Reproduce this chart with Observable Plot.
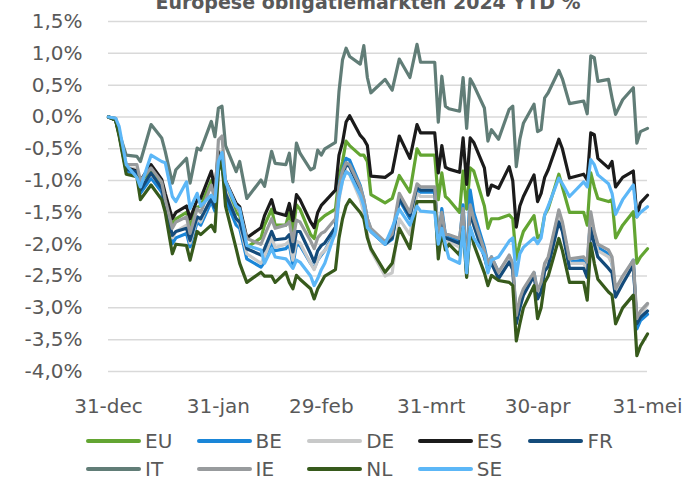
<!DOCTYPE html>
<html>
<head>
<meta charset="utf-8">
<script src="https://cdn.jsdelivr.net/npm/d3@7"></script>
<script src="https://cdn.jsdelivr.net/npm/@observablehq/plot@0.6"></script>
<style>
  html, body { margin: 0; padding: 0; background: #ffffff; }
  #wrap { position: relative; width: 700px; height: 484px; overflow: hidden; background: #fff; }
  #title { position: absolute; left: 18px; width: 700px; top: -9px; text-align: center;
           font: bold 19px "DejaVu Sans"; line-height: 22px; color: #595959; white-space: nowrap; }
  #chart { position: absolute; left: 0; top: 0; }
  .lg-sw { position: absolute; width: 55px; height: 4px; border-radius: 2px; }
  .lg-tx { position: absolute; font: 20px "DejaVu Sans"; line-height: 24px; color: #595959; white-space: nowrap; }
</style>
</head>
<body>
<div id="wrap">
  <div id="chart"></div>
  <div id="title">Europese obligatiemarkten 2024 YTD %</div>
  <div id="legend"></div>
</div>
<script>
const dates = [
"2023-12-31","2024-01-02","2024-01-03","2024-01-05","2024-01-08","2024-01-09","2024-01-12","2024-01-15","2024-01-16","2024-01-18",
"2024-01-19","2024-01-22","2024-01-23","2024-01-25","2024-01-26","2024-01-29","2024-01-30","2024-01-31","2024-02-01","2024-02-02",
"2024-02-05","2024-02-06","2024-02-08","2024-02-12","2024-02-13","2024-02-15","2024-02-16","2024-02-19","2024-02-20","2024-02-21",
"2024-02-22","2024-02-23","2024-02-26","2024-02-27","2024-02-28","2024-02-29","2024-03-01","2024-03-04","2024-03-05","2024-03-06",
"2024-03-07","2024-03-08","2024-03-11","2024-03-12","2024-03-13","2024-03-14","2024-03-18","2024-03-20","2024-03-22","2024-03-25",
"2024-03-27","2024-03-28","2024-04-01","2024-04-02","2024-04-03","2024-04-04","2024-04-05","2024-04-08","2024-04-09","2024-04-10",
"2024-04-11","2024-04-12","2024-04-15","2024-04-16","2024-04-17","2024-04-19","2024-04-22","2024-04-23","2024-04-24","2024-04-25",
"2024-04-26","2024-04-29","2024-04-30","2024-05-01","2024-05-02","2024-05-03","2024-05-06","2024-05-07","2024-05-09","2024-05-13",
"2024-05-14","2024-05-15","2024-05-16","2024-05-17","2024-05-20","2024-05-21","2024-05-22","2024-05-24","2024-05-27","2024-05-28",
"2024-05-29","2024-05-31"];

const EU = [
0,-0.05,-0.28,-0.85,-0.9,-1.05,-0.85,-1.05,-1.3,-1.7,
-1.6,-1.5,-1.72,-1.42,-1.4,-1.0,-1.3,-0.7,-0.8,-1.1,
-1.5,-1.55,-2.05,-1.9,-1.7,-1.45,-1.7,-1.7,-1.5,-1.8,
-1.38,-1.45,-1.85,-1.91,-1.65,-1.6,-1.55,-1.45,-0.95,-0.7,
-0.38,-0.45,-0.6,-0.6,-0.7,-1.22,-1.35,-1.28,-0.92,-1.18,
-0.5,-0.6,-0.6,-1.3,-0.88,-1.25,-1.3,-1.5,-0.85,-1.45,
-0.8,-0.85,-1.4,-1.75,-1.6,-1.6,-1.54,-1.6,-2.24,-1.98,
-1.8,-1.55,-1.9,-1.85,-1.54,-1.44,-0.9,-1.1,-1.5,-1.5,
-1.7,-0.88,-1.1,-1.28,-1.33,-1.3,-1.9,-1.7,-1.49,-2.3,
-2.2,-2.07];

const BE = [
0,-0.04,-0.27,-0.85,-0.9,-1.2,-0.96,-1.18,-1.45,-1.99,
-1.9,-1.83,-2.04,-1.65,-1.7,-1.33,-1.48,-0.7,-0.7,-1.3,
-1.7,-1.75,-2.23,-2.36,-2.28,-1.96,-2.1,-2.07,-2.0,-2.33,
-2.0,-2.02,-2.3,-2.38,-2.25,-2.17,-2.1,-1.8,-1.05,-0.85,
-0.65,-0.68,-1.08,-1.3,-1.6,-1.78,-2.0,-1.92,-1.3,-1.6,
-1.15,-1.18,-1.18,-1.98,-1.44,-1.86,-1.9,-1.95,-1.38,-2.4,
-1.15,-1.5,-2.05,-2.3,-2.2,-2.44,-2.2,-2.32,-3.18,-2.9,
-2.75,-2.45,-2.78,-2.65,-2.35,-2.25,-1.5,-1.7,-2.28,-2.25,
-2.35,-1.55,-1.85,-2.05,-2.15,-2.3,-2.75,-2.55,-2.25,-3.33,
-3.2,-3.1];

const DE = [
0,-0.03,-0.24,-0.8,-0.82,-1.1,-0.9,-1.1,-1.38,-1.9,
-1.8,-1.7,-1.98,-1.6,-1.65,-1.25,-1.4,-0.55,-0.55,-1.15,
-1.6,-1.68,-2.15,-2.3,-2.2,-1.9,-2.05,-2.0,-1.95,-2.25,
-1.95,-1.98,-2.3,-2.4,-2.25,-2.15,-2.1,-1.85,-1.3,-1.0,
-0.85,-0.9,-1.3,-1.5,-1.85,-2.1,-2.5,-2.45,-1.6,-1.85,
-1.2,-1.25,-1.25,-2.05,-1.6,-1.95,-1.95,-2.05,-1.55,-2.5,
-1.45,-1.7,-2.2,-2.4,-2.3,-2.5,-2.25,-2.4,-3.2,-2.95,
-2.8,-2.5,-2.8,-2.7,-2.4,-2.3,-1.55,-1.75,-2.3,-2.3,
-2.4,-1.6,-1.9,-2.1,-2.2,-2.3,-2.78,-2.55,-2.3,-3.2,
-3.1,-2.95];

const ES = [
0,-0.05,-0.25,-0.8,-0.85,-1.0,-0.75,-0.98,-1.2,-1.6,
-1.5,-1.4,-1.6,-1.3,-1.28,-0.85,-1.15,-0.55,-0.7,-1.0,
-1.36,-1.41,-1.9,-1.74,-1.55,-1.3,-1.5,-1.55,-1.36,-1.63,
-1.22,-1.3,-1.65,-1.74,-1.5,-1.39,-1.33,-1.15,-0.6,-0.4,
-0.08,0.02,-0.29,-0.35,-0.45,-0.93,-0.95,-0.87,-0.3,-0.65,
-0.12,-0.25,-0.25,-0.88,-0.45,-0.79,-0.82,-0.87,-0.33,-1.06,
-0.33,-0.4,-0.8,-1.23,-1.07,-1.12,-0.78,-1.0,-1.73,-1.4,
-1.25,-0.91,-1.33,-1.2,-0.95,-0.83,-0.35,-0.5,-0.96,-0.9,
-0.99,-0.25,-0.28,-0.65,-0.8,-0.7,-1.1,-0.95,-0.85,-1.57,
-1.35,-1.23];

const FR = [
0,-0.04,-0.25,-0.82,-0.86,-1.15,-0.88,-1.12,-1.4,-1.86,
-1.8,-1.75,-1.94,-1.57,-1.6,-1.28,-1.42,-0.65,-0.65,-1.2,
-1.6,-1.65,-2.07,-2.17,-2.07,-1.8,-1.93,-1.91,-1.85,-2.12,
-1.8,-1.8,-2.15,-2.28,-2.1,-2.02,-1.98,-1.73,-1.2,-0.92,
-0.75,-0.78,-1.15,-1.35,-1.65,-1.8,-2.0,-1.9,-1.28,-1.55,
-1.1,-1.15,-1.15,-1.95,-1.55,-1.9,-1.92,-1.99,-1.54,-2.45,
-1.49,-1.7,-2.2,-2.4,-2.3,-2.54,-2.28,-2.4,-3.25,-3.0,
-2.8,-2.49,-2.86,-2.75,-2.42,-2.35,-1.65,-1.8,-2.38,-2.38,
-2.52,-1.75,-2.0,-2.2,-2.38,-2.45,-2.83,-2.62,-2.33,-3.25,
-3.15,-3.05];

const IT = [
0,-0.02,-0.25,-0.6,-0.62,-0.7,-0.12,-0.33,-0.54,-1.04,
-0.83,-0.65,-1.04,-0.49,-0.52,-0.07,-0.31,0.14,0.17,-0.45,
-0.86,-0.7,-1.28,-0.99,-1.09,-0.54,-0.73,-0.75,-0.57,-1.02,
-0.41,-0.57,-0.83,-0.8,-0.52,-0.6,-0.5,-0.4,0.4,0.9,
1.08,0.95,0.83,1.12,0.62,0.38,0.59,0.42,0.91,0.62,
1.14,0.86,0.86,-0.08,0.64,0.17,0.13,0.09,0.62,-0.18,
0.6,0.5,0.14,-0.38,-0.2,-0.35,0.12,0.17,-0.78,-0.35,
-0.1,0.2,-0.23,-0.2,0.3,0.38,0.73,0.6,0.21,0.25,
0.05,0.96,0.93,0.56,0.59,0.3,0.04,0.27,0.46,-0.41,
-0.23,-0.18];

const IE = [
0,-0.03,-0.22,-0.75,-0.75,-1.0,-0.8,-1.02,-1.3,-1.75,
-1.65,-1.57,-1.83,-1.44,-1.5,-1.07,-1.3,-0.36,-0.3,-1.0,
-1.4,-1.49,-1.91,-2.0,-1.86,-1.6,-1.75,-1.7,-1.65,-1.96,
-1.62,-1.65,-1.95,-2.07,-1.9,-1.83,-1.8,-1.6,-1.1,-0.85,
-0.72,-0.75,-1.1,-1.3,-1.6,-1.75,-1.96,-1.84,-1.2,-1.5,
-1.05,-1.1,-1.1,-1.9,-1.5,-1.85,-1.85,-1.91,-1.44,-2.4,
-1.38,-1.6,-2.1,-2.3,-2.2,-2.44,-2.17,-2.3,-3.12,-2.85,
-2.7,-2.44,-2.73,-2.6,-2.3,-2.2,-1.46,-1.65,-2.23,-2.2,
-2.28,-1.49,-1.8,-2.0,-2.09,-2.2,-2.7,-2.5,-2.25,-3.17,
-3.05,-2.93];

const NL = [
0,-0.05,-0.3,-0.9,-0.94,-1.3,-1.07,-1.3,-1.5,-2.15,
-2.0,-2.02,-2.25,-1.8,-1.85,-1.7,-1.8,-0.85,-0.7,-1.4,
-2.07,-2.3,-2.6,-2.44,-2.5,-2.5,-2.6,-2.44,-2.6,-2.7,
-2.49,-2.55,-2.7,-2.86,-2.7,-2.6,-2.5,-2.4,-1.9,-1.6,
-1.4,-1.3,-1.5,-1.6,-1.9,-2.07,-2.44,-2.3,-1.75,-2.07,
-1.33,-1.33,-1.33,-2.23,-1.8,-2.09,-2.0,-2.17,-1.75,-2.52,
-1.75,-2.0,-2.45,-2.65,-2.49,-2.57,-2.6,-2.65,-3.52,-3.25,
-3.0,-2.65,-3.17,-3.0,-2.6,-2.5,-1.91,-2.1,-2.6,-2.6,
-2.88,-1.99,-2.3,-2.55,-2.75,-2.8,-3.25,-3.0,-2.8,-3.75,
-3.6,-3.41];

const SE = [
0,-0.02,-0.15,-0.75,-0.95,-1.1,-0.6,-0.7,-0.72,-1.25,
-1.33,-1.02,-1.44,-1.2,-1.4,-1.23,-1.33,-0.7,-0.56,-1.02,
-1.4,-1.44,-2.02,-2.09,-2.3,-2.07,-2.2,-2.23,-2.3,-2.38,
-2.25,-2.28,-2.5,-2.65,-2.54,-2.4,-2.3,-1.8,-1.26,-1.0,
-0.86,-0.9,-1.23,-1.4,-1.74,-1.8,-2.0,-1.74,-1.45,-1.7,
-1.4,-1.48,-1.5,-2.0,-1.75,-2.0,-2.22,-2.3,-1.73,-2.45,
-1.73,-1.9,-2.17,-2.45,-2.25,-2.2,-1.95,-1.9,-2.49,-2.15,
-2.05,-1.9,-1.99,-1.9,-1.54,-1.4,-0.96,-1.05,-1.25,-1.02,
-1.1,-0.67,-0.75,-0.91,-1.05,-1.2,-1.53,-1.3,-1.07,-1.57,
-1.5,-1.41];

const seriesNames = ["EU","BE","DE","ES","FR","IT","IE","NL","SE"];
const seriesValues = [EU, BE, DE, ES, FR, IT, IE, NL, SE];
const seriesColors = ["#63a532","#1a86d8","#c8c9c9","#1b1b1b","#144b7a","#617d77","#989b9d","#375a1c","#5cb7f7"];

const yTicks = [1.5, 1.0, 0.5, 0.0, -0.5, -1.0, -1.5, -2.0, -2.5, -3.0, -3.5, -4.0];
const xTickDates = ["2023-12-31","2024-01-31","2024-02-29","2024-03-31","2024-04-30","2024-05-31"];
const xTickLabels = ["31-dec","31-jan","29-feb","31-mrt","30-apr","31-mei"];

const xDomain = [new Date(dates[0]), new Date(dates[dates.length - 1])];
const tickLabelOf = new Map(xTickDates.map((d, i) => [new Date(d).getTime(), xTickLabels[i]]));

const lineMarks = seriesNames.map((name, k) =>
  Plot.line(dates.map((d, i) => ({date: new Date(d), value: seriesValues[k][i]})), {
    x: "date", y: "value", stroke: seriesColors[k], strokeWidth: 3.2,
    strokeLinejoin: "round", strokeLinecap: "round"
  })
);

const chart = Plot.plot({
  width: 700,
  height: 420,
  marginLeft: 108,
  marginRight: 53,
  marginTop: 21,
  marginBottom: 49,
  style: {fontFamily: "DejaVu Sans", fontSize: "20px", color: "#595959", background: "transparent"},
  x: {type: "utc", domain: xDomain},
  y: {domain: [-4, 1.5]},
  marks: [
    Plot.gridY(yTicks, {stroke: "#d9d9d9", strokeOpacity: 1, strokeWidth: 1.5}),
    Plot.axisY(yTicks, {tickSize: 0, tickPadding: 26, label: null, fill: "#595959",
      tickFormat: d => d.toFixed(1).replace(".", ",") + "%"}),
    Plot.axisX(xTickDates.map(d => new Date(d)), {tickSize: 0, tickPadding: 27, label: null, fill: "#595959",
      tickFormat: d => tickLabelOf.get(d.getTime())}),
    ...lineMarks
  ]
});
document.getElementById("chart").appendChild(chart);

// legend
const legend = document.getElementById("legend");
const rowCenters = [441, 469];
seriesNames.forEach((name, k) => {
  const row = k < 5 ? 0 : 1;
  const col = k < 5 ? k : k - 5;
  const left = 86 + col * 110.6;
  const cy = rowCenters[row];
  const sw = document.createElement("div");
  sw.className = "lg-sw";
  sw.style.left = left + "px";
  sw.style.top = (cy - 2) + "px";
  sw.style.background = seriesColors[k];
  legend.appendChild(sw);
  const tx = document.createElement("div");
  tx.className = "lg-tx";
  tx.style.left = (left + 59) + "px";
  tx.style.top = (cy - 12) + "px";
  tx.textContent = name;
  legend.appendChild(tx);
});
</script>
</body>
</html>
